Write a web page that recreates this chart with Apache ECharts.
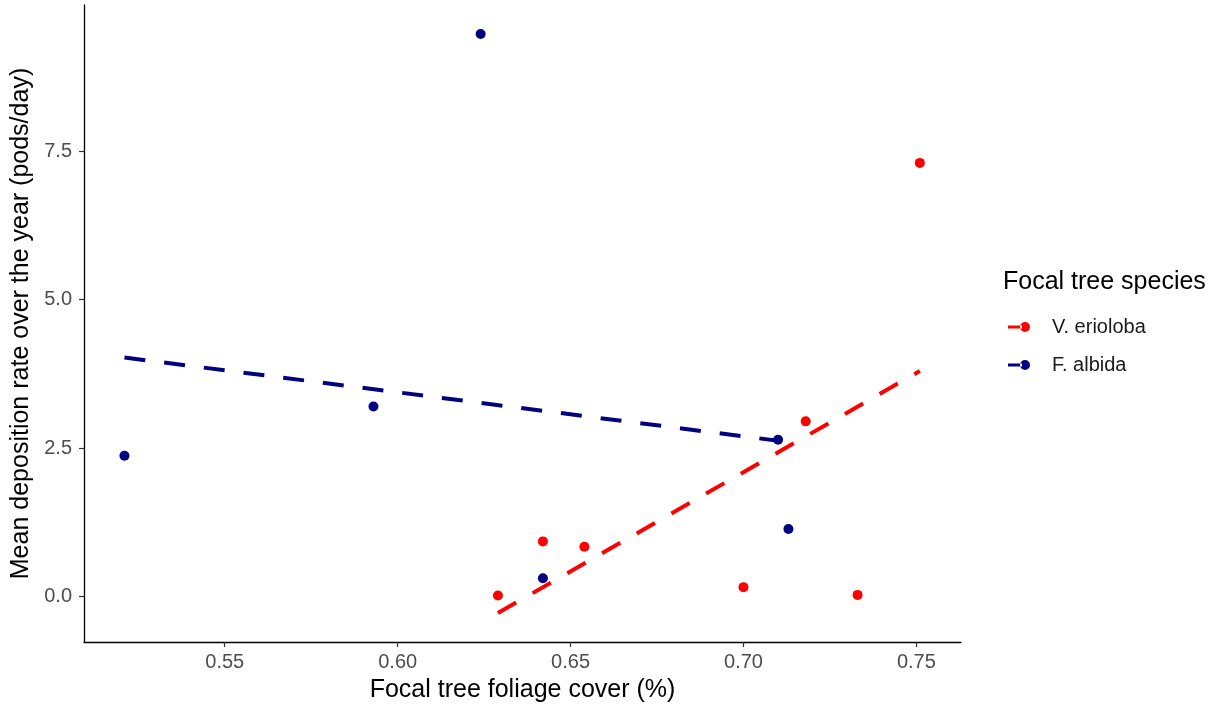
<!DOCTYPE html>
<html><head><meta charset="utf-8">
<script src="https://cdn.jsdelivr.net/npm/echarts@6/dist/echarts.min.js"></script>
<style>html,body{margin:0;padding:0;background:#fff}#c{width:1219px;height:708px}</style>
</head><body><div id="c"></div>
<script>
const xTicks = [0.55, 0.60, 0.65, 0.70, 0.75];
const yTicks = [0, 2.5, 5, 7.5];
const speciesNames = ['V. erioloba', 'F. albida'];
const erioCover = [0.629, 0.642, 0.654, 0.700, 0.733, 0.718, 0.751];
const erioRate  = [0.02, 0.93, 0.84, 0.16, 0.03, 2.95, 7.30];
const albidaCover = [0.521, 0.593, 0.624, 0.642, 0.710, 0.713];
const albidaRate  = [2.37, 3.20, 9.47, 0.31, 2.64, 1.14];

const RED = '#FF0000', NAVY = '#000080';
const FONT = '"Liberation Sans", Arial, Helvetica, sans-serif';

function pairs(xs, ys) { return xs.map((x, i) => [x, ys[i]]); }
function fitLine(xs, ys) {
  const n = xs.length;
  const mx = xs.reduce((a, b) => a + b, 0) / n;
  const my = ys.reduce((a, b) => a + b, 0) / n;
  let sxy = 0, sxx = 0;
  for (let i = 0; i < n; i++) { sxy += (xs[i] - mx) * (ys[i] - my); sxx += (xs[i] - mx) ** 2; }
  const b = sxy / sxx, a = my - b * mx;
  const lo = Math.min(...xs), hi = Math.max(...xs);
  return [[lo, a + b * lo], [hi, a + b * hi]];
}

const legendIcon = 'path://M0,3.6L14,3.6L14,6.4L0,6.4Z M12,5A5,5,0,1,0,22,5A5,5,0,1,0,12,5Z';

const chart = echarts.init(document.getElementById('c'), null, { renderer: 'canvas' });
chart.setOption({
  animation: false,
  backgroundColor: '#fff',
  textStyle: { fontFamily: FONT },
  title: {
    text: 'Focal tree species', left: 998, top: 265,
    textStyle: { fontFamily: FONT, fontSize: 25, fontWeight: 'normal', color: '#000' }
  },
  legend: {
    orient: 'vertical', left: 1003, top: 312, itemWidth: 22, itemHeight: 10, itemGap: 18,
    data: [
      { name: speciesNames[0], icon: legendIcon, itemStyle: { color: RED } },
      { name: speciesNames[1], icon: legendIcon, itemStyle: { color: NAVY } }
    ],
    textStyle: { fontFamily: FONT, fontSize: 20, color: '#1a1a1a', padding: [0, 0, 0, 17] },
    selectedMode: false
  },
  grid: { left: 84, right: 258, top: 5, bottom: 66, containLabel: false },
  xAxis: {
    type: 'value', min: 0.5093, max: 0.7629,
    name: 'Focal tree foliage cover (%)', nameLocation: 'middle', nameGap: 36,
    nameTextStyle: { fontFamily: FONT, fontSize: 25, color: '#000' },
    axisLine: { show: true, onZero: false, lineStyle: { color: '#000', width: 1.3 } },
    axisTick: { show: true, length: 5, lineStyle: { color: '#333', width: 1.2 }, customValues: xTicks },
    axisLabel: { fontFamily: FONT, fontSize: 20, color: '#4D4D4D', margin: 10, customValues: xTicks,
                 formatter: v => v.toFixed(2) },
    splitLine: { show: false }
  },
  yAxis: {
    type: 'value', min: -0.763, max: 9.957,
    name: 'Mean deposition rate over the year (pods/day)', nameLocation: 'middle', nameGap: 44,
    nameTextStyle: { fontFamily: FONT, fontSize: 25, color: '#000' },
    axisLine: { show: true, onZero: false, lineStyle: { color: '#000', width: 1.3 } },
    axisTick: { show: true, length: 5, lineStyle: { color: '#333', width: 1.2 }, customValues: yTicks },
    axisLabel: { fontFamily: FONT, fontSize: 20, color: '#4D4D4D', margin: 12, customValues: yTicks,
                 formatter: v => v.toFixed(1) },
    splitLine: { show: false }
  },
  series: [
    { name: speciesNames[0], type: 'scatter', symbolSize: 10, itemStyle: { color: RED, opacity: 1 },
      data: pairs(erioCover, erioRate), z: 2 },
    { name: speciesNames[1], type: 'scatter', symbolSize: 10, itemStyle: { color: NAVY, opacity: 1 },
      data: pairs(albidaCover, albidaRate), z: 2 },
    { name: speciesNames[0], type: 'line', showSymbol: false, symbol: 'none', silent: true,
      lineStyle: { color: RED, width: 4, type: [21, 19], cap: 'butt' }, itemStyle: { color: RED },
      data: fitLine(erioCover, erioRate), z: 3 },
    { name: speciesNames[1], type: 'line', showSymbol: false, symbol: 'none', silent: true,
      lineStyle: { color: NAVY, width: 4, type: [21, 19], cap: 'butt' }, itemStyle: { color: NAVY },
      data: fitLine(albidaCover, albidaRate), z: 3 }
  ]
});
</script></body></html>
